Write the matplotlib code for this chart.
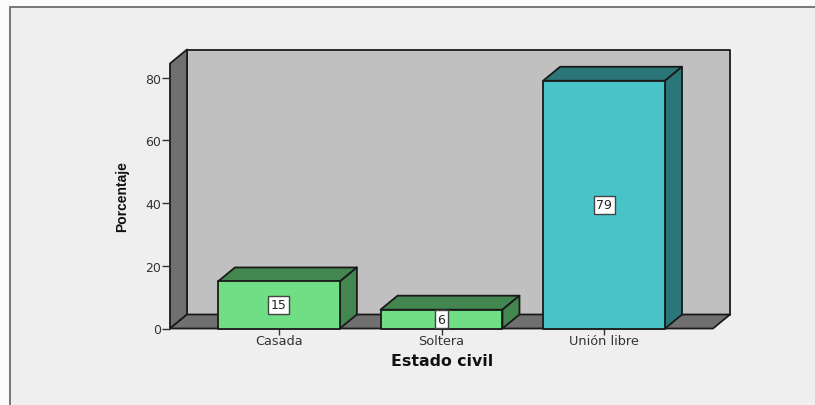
import matplotlib
matplotlib.use("Agg")
import matplotlib.pyplot as plt
from matplotlib.patches import Polygon, Rectangle

categories = ["Casada", "Soltera", "Unión libre"]
values = [15, 6, 79]
y_ticks = [0, 20, 40, 60, 80]
front_colors = ["#70DE84", "#70DE84", "#48C4C8"]
side_colors = ["#438650", "#438650", "#2B7678"]

W, H = 815, 406
plt.rcParams["font.family"] = ["DejaVu Sans"]
fig = plt.figure(figsize=(W / 100, H / 100), dpi=100, facecolor="#FBFBFB")

# outer panel
fig.add_artist(Rectangle((10 / W, -0.05), 1.1, 1.05 - 8 / H, transform=fig.transFigure,
                         facecolor="#EFEFEF", edgecolor="#6E6E6E", linewidth=1.3, zorder=-5))

# plot region in pixels
x0, x1, y0, ytop = 170, 713, 329.5, 64.5
ax = fig.add_axes([x0 / W, 1 - y0 / H, (x1 - x0) / W, (y0 - ytop) / H])
ax.set_xlim(-0.67, 2.67)
ax.set_ylim(0, 84.5)
ax.patch.set_alpha(0)
for s in ax.spines.values():
    s.set_visible(False)

xmin, xmax = ax.get_xlim()
ymin, ymax = ax.get_ylim()
dx = 17 * (xmax - xmin) / (x1 - x0)
dy = 14 * (ymax - ymin) / (y0 - ytop)
edge = "#1A1A1A"
lw = 1.3


def poly(pts, fc, ec=edge, z=1):
    ax.add_patch(Polygon(pts, closed=True, facecolor=fc, edgecolor=ec,
                         linewidth=lw, clip_on=False, zorder=z, joinstyle="round"))


# back wall, left wall, floor
poly([(xmin + dx, dy), (xmax + dx, dy), (xmax + dx, ymax + dy), (xmin + dx, ymax + dy)], "#C0C0C0", z=1)
poly([(xmin, 0), (xmin + dx, dy), (xmin + dx, ymax + dy), (xmin, ymax)], "#707070", z=1.1)
poly([(xmin, 0), (xmax, 0), (xmax + dx, dy), (xmin + dx, dy)], "#707070", z=1.1)

width = 0.75
for i, (v, fc, sc) in enumerate(zip(values, front_colors, side_colors)):
    l, r = i - width / 2, i + width / 2
    poly([(l, v), (r, v), (r + dx, v + dy), (l + dx, v + dy)], sc, z=2)
    poly([(r, 0), (r + dx, dy), (r + dx, v + dy), (r, v)], sc, z=2)
    poly([(l, 0), (r, 0), (r, v), (l, v)], fc, z=3)
    ax.text(i, v / 2, f"{v}", ha="center", va="center", fontsize=9, color="#222222", zorder=5,
            bbox=dict(boxstyle="square,pad=0.2", facecolor="white", edgecolor="#444444", linewidth=1.0))

ax.set_xticks(range(len(categories)))
ax.set_xticklabels(categories, fontsize=9.3, color="#333333")
ax.set_yticks(y_ticks)
ax.set_yticklabels([str(t) for t in y_ticks], fontsize=9, color="#333333")
ax.tick_params(axis="x", length=4.3, width=1, color="#333333", pad=0)
ax.tick_params(axis="y", length=5.6, width=1, color="#333333", pad=1)

fig.text(442 / W, 1 - 362 / H, "Estado civil", ha="center", va="center",
         fontsize=11.3, fontweight="bold", color="#111111")
fig.text(122 / W, 1 - 197 / H, "Porcentaje", ha="center", va="center", rotation=90,
         fontsize=10, fontweight="bold", color="#111111", family="Liberation Sans")

fig.savefig("out.png", dpi=100, facecolor=fig.get_facecolor())
